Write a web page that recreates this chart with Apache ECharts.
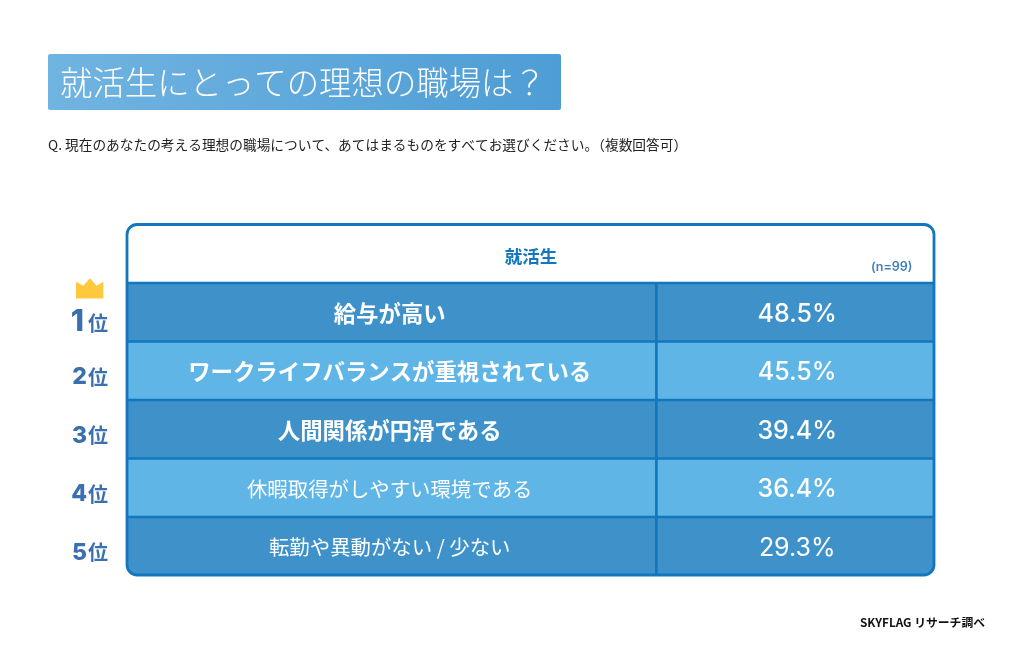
<!DOCTYPE html>
<html>
<head>
<meta charset="utf-8" />
<title>就活生にとっての理想の職場は？</title>
<script src="https://cdn.jsdelivr.net/npm/echarts@6/dist/echarts.min.js"></script>
<style>
  html, body { margin: 0; padding: 0; background: #fff; }
  #main { width: 1024px; height: 649px; }
</style>
</head>
<body>
<div id="main"></div>
<script>
// データ
var titleText = '就活生にとっての理想の職場は？';
var questionText = 'Q. 現在のあなたの考える理想の職場について、あてはまるものをすべてお選びください。（複数回答可）';
var headerText = '就活生';
var sampleText = '(n=99)';
var sourceText = 'SKYFLAG リサーチ調べ';
var ranks = ['1', '2', '3', '4', '5'];
var categories = [
  '給与が高い',
  'ワークライフバランスが重視されている',
  '人間関係が円滑である',
  '休暇取得がしやすい環境である',
  '転勤や異動がない / 少ない'
];
var percents = [48.5, 45.5, 39.4, 36.4, 29.3];

var JP = '"Noto Sans CJK JP"';
var lineBlue = '#1277bd';
var rankBlue = '#3a6fb0';
var split = 0.656; // 項目列と数値列の境目

var chart = echarts.init(document.getElementById('main'), null, { renderer: 'canvas' });

function renderRow(params, api) {
  var i = api.value(0);
  var p0 = api.coord([0, i]);
  var p1 = api.coord([1, i]);
  var pm = api.coord([split, i]);
  var h = api.size([0, 1])[1];
  var top = p0[1] - h / 2;
  var last = i === categories.length - 1;
  var strong = i < 3;
  return {
    type: 'group',
    children: [
      {
        type: 'rect',
        shape: { x: p0[0], y: top, width: p1[0] - p0[0], height: h, r: last ? [0, 0, 10, 10] : 0 },
        style: { fill: i % 2 === 0 ? '#3e92c9' : '#5eb5e6' }
      },
      {
        type: 'line',
        shape: { x1: p0[0], y1: top, x2: p1[0], y2: top },
        style: { stroke: lineBlue, lineWidth: 2.7 }
      },
      {
        type: 'line',
        shape: { x1: pm[0], y1: top, x2: pm[0], y2: top + h },
        style: { stroke: lineBlue, lineWidth: 2.7 }
      },
      {
        type: 'text',
        style: {
          x: (p0[0] + pm[0]) / 2 - 2,
          y: p0[1] + 1,
          text: categories[i],
          fill: '#fff',
          align: 'center',
          verticalAlign: 'middle',
          font: (strong ? 'bold 22.4px ' : '20.4px ') + JP
        }
      },
      {
        type: 'text',
        style: {
          x: (pm[0] + p1[0]) / 2 + 2,
          y: p0[1] + 2,
          text: api.value(1).toFixed(1) + '%',
          fill: '#fff',
          align: 'center',
          verticalAlign: 'middle',
          font: (last ? '400' : '500') + ' 25px Inter'
        }
      }
    ]
  };
}

chart.setOption({
  animation: false,
  backgroundColor: '#fff',
  title: [
    {
      text: titleText,
      left: 60,
      top: 62,
      padding: 0,
      textStyle: { color: '#fff', fontFamily: JP, fontWeight: 300, fontSize: 32.4, lineHeight: 42 }
    },
    {
      text: questionText,
      left: 48,
      top: 135,
      padding: 0,
      textStyle: { color: '#222', fontFamily: JP, fontWeight: 400, fontSize: 13.7, lineHeight: 20 }
    },
    {
      text: headerText,
      left: 531,
      textAlign: 'center',
      top: 245,
      padding: 0,
      textStyle: { color: lineBlue, fontFamily: JP, fontWeight: 700, fontSize: 17.5, lineHeight: 22 }
    },
    {
      text: sampleText,
      left: 871,
      top: 261,
      padding: 0,
      textStyle: { color: '#3f80bf', fontFamily: 'Inter', fontWeight: 600, fontSize: 12.5, lineHeight: 13 }
    },
    {
      text: sourceText,
      left: 860,
      top: 616,
      padding: 0,
      textStyle: { color: '#111', fontFamily: JP, fontWeight: 700, fontSize: 11.8, lineHeight: 14 }
    }
  ],
  grid: { left: 127, top: 283, width: 807, height: 292.5 },
  xAxis: { type: 'value', min: 0, max: 1, show: false },
  yAxis: {
    type: 'category',
    inverse: true,
    data: ranks,
    axisLine: { show: false },
    axisTick: { show: false },
    axisLabel: {
      margin: 19,
      formatter: function (v) {
        return v === '1' ? '{top|' + v + '}{unitTop|位}' : '{num|' + v + '}{unit|位}';
      },
      rich: {
        top: { fontFamily: 'Inter', fontWeight: 800, fontSize: 30, color: rankBlue, padding: [20, 4, 0, 0] },
        unitTop: { fontFamily: JP, fontWeight: 700, fontSize: 20, color: rankBlue, padding: [22, 0, 0, 0] },
        num: { fontFamily: 'Inter', fontWeight: 800, fontSize: 23, color: rankBlue, padding: [13, 1, 0, 0] },
        unit: { fontFamily: JP, fontWeight: 700, fontSize: 20, color: rankBlue, padding: [13, 0, 0, 0] }
      }
    }
  },
  graphic: [
    {
      type: 'rect',
      z: 0,
      shape: { x: 48, y: 54, width: 513, height: 56, r: 2 },
      style: {
        fill: new echarts.graphic.LinearGradient(0, 0, 1, 0, [
          { offset: 0, color: '#70b4e1' },
          { offset: 1, color: '#4e9dd5' }
        ])
      }
    },
    {
      // 枠線
      type: 'rect',
      z: 20,
      shape: { x: 127, y: 224.5, width: 807, height: 350.5, r: 10 },
      style: { fill: 'none', stroke: lineBlue, lineWidth: 2.8 }
    },
    {
      // 王冠
      type: 'polygon',
      z: 20,
      shape: { points: [[76, 281.7], [83.3, 285.7], [90, 278.3], [96.7, 285.7], [103.3, 281.7], [103.3, 298.5], [76, 298.5]] },
      style: { fill: '#ffc83d' }
    }
  ],
  series: [
    {
      type: 'custom',
      coordinateSystem: 'cartesian2d',
      renderItem: renderRow,
      clip: false,
      encode: { x: 1, y: 0 },
      data: percents.map(function (v, i) { return [i, v]; })
    }
  ]
});
</script>
</body>
</html>
